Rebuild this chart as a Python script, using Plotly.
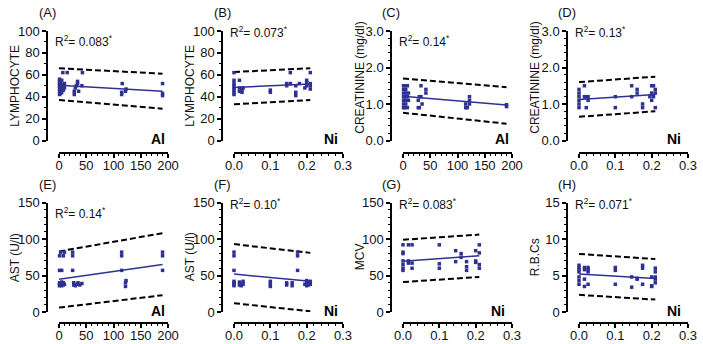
import plotly.graph_objects as go

# ---------------- data ----------------
AL_FIT_X = [0, 190]
NI_FIT_X = [0, 0.21]

A_X = [1,1,1,1,1,1,1, 3,3,3,3, 5,5,5,5, 7, 8,8, 10,10, 15, 28,28,30,32,34,34,36, 42,43, 115,115,116,122,123, 190,190,190]
A_Y = [42,45,48,50,52,54,56, 43,47,50,53, 44,49,51,55, 62, 46,50, 48,52, 62, 42,45,48,50,52,54,45, 50,62, 42,44,52,45,47, 41,43,52]
A_FIT = [50.5, 45]
A_UP = [66, 61]
A_LO = [37, 29]

B_X = [0,0,0,0,0,0,0,0, 0.015,0.015,0.015, 0.022,0.022,0.025, 0.1,0.1, 0.145,0.145, 0.155,0.155, 0.17,0.17,0.17, 0.18, 0.195,0.2,0.2,0.2, 0.21,0.21,0.21,0.21]
B_Y = [42,44,46,48,50,52,55,62, 45,48,55, 44,46,48, 44,46, 50,52, 62,52, 41,44,50, 52, 48,50,53,55, 47,50,52,62]
B_FIT = [48.5, 51.5]
B_UP = [62.5, 66]
B_LO = [33, 37]

C_X = [1,1,1,1,1,1,1, 3,3,3, 5,5,5,5, 8,8,8, 10,10, 28,28,30,30,33,33,35, 42,42, 115,115,118, 122,122,122, 190,190]
C_Y = [0.9,1.0,1.1,1.2,1.3,1.4,1.5, 0.9,1.2,1.5, 1.0,1.1,1.3,1.4, 0.9,1.2,1.5, 1.1,1.3, 0.9,1.1,0.9,1.2,1.2,1.5,1.0, 1.3,1.4, 0.9,1.0,0.9, 1.0,1.1,1.2, 0.93,0.98]
C_FIT = [1.21, 0.97]
C_UP = [1.70, 1.46]
C_LO = [0.76, 0.46]

D_X = [0,0,0,0,0,0, 0.015,0.015, 0.02,0.02,0.025,0.025, 0.1,0.1, 0.145,0.145, 0.16,0.16, 0.175,0.175, 0.195,0.2,0.2,0.2, 0.205,0.205, 0.21,0.21,0.21]
D_Y = [0.9,1.0,1.1,1.2,1.3,1.4, 1.5,1.2, 0.9,1.2,1.1,1.2, 0.9,1.2, 1.5,1.2, 1.3,1.4, 0.9,1.0, 1.2,1.5,1.3,1.1, 1.5,1.2, 0.9,1.3,1.4]
D_FIT = [1.12, 1.26]
D_UP = [1.60, 1.75]
D_LO = [0.65, 0.80]

E_X = [1,1,1,1,1, 3,3,3, 5,5,5,5, 8,8,8, 10,10, 25,25,25,27,27, 30,33,35,38,42, 115,115,115, 122,122,123, 190,190,190]
E_Y = [36,38,40,57,77, 37,39,82, 36,38,41,57, 37,40,77, 38,82, 57,77,82,37,40, 36,38,40,37,39, 57,77,82, 35,40,43, 57,77,82]
E_FIT = [45, 65]
E_UP = [83, 108]
E_LO = [6, 23]

F_X = [0,0,0,0,0,0,0, 0.015,0.015,0.02,0.02,0.025,0.025, 0.1,0.1,0.1, 0.145,0.145, 0.16,0.16, 0.175,0.175,0.175, 0.195,0.2,0.2,0.2,0.205,0.205,0.21,0.21]
F_Y = [36,38,40,42,57,77,82, 37,41,36,39,38,42, 35,38,42, 37,40, 36,40, 57,77,82, 38,36,40,43,37,41,38,42]
F_FIT = [52, 42]
F_UP = [93, 81]
F_LO = [12, 1]

G_X = [0,0,0,0,0,0,0, 0.015,0.015,0.015, 0.025,0.025,0.025, 0.1,0.1,0.1, 0.145,0.145, 0.16,0.16, 0.175,0.175,0.175, 0.2,0.2,0.2, 0.21,0.21,0.21,0.21]
G_Y = [57,60,65,70,80,82,92, 92,67,70, 60,67,92, 60,66,92, 69,84, 75,80, 57,62,69, 68,70,84, 60,65,81,92]
G_FIT = [69.5, 77]
G_UP = [99, 106]
G_LO = [41, 48]

H_X = [0,0,0,0,0,0,0, 0.015,0.015,0.015,0.015, 0.025,0.025,0.025,0.025, 0.1,0.1,0.1, 0.145,0.145, 0.16,0.16, 0.175,0.175,0.175, 0.2,0.2,0.2, 0.21,0.21,0.21,0.21,0.21]
H_Y = [3.8,4.3,4.8,5.5,5.8,6.1,6.4, 3.5,4.5,5.8,6.1, 3.8,5.5,5.8,6.1, 3.8,5.7,6.1, 3.4,4.8, 4.5,4.6, 3.8,6.0,6.4, 3.5,3.6,4.8, 4.0,4.5,5.5,6.0,4.8]
H_FIT = [5.2, 4.6]
H_UP = [7.95, 7.25]
H_LO = [2.35, 1.7]

LETTERS = ["(A)", "(B)", "(C)", "(D)", "(E)", "(F)", "(G)", "(H)"]
Y_TITLES = ["LYMPHOCYTE", "LYMPHOCYTE", "CREATININE (mg/dl)", "CREATININE (mg/dl)",
            "AST (U/l)", "AST (U/l)", "MCV", "R.B.Cs"]
R2_TEXT = ["0.083", "0.073", "0.14", "0.13", "0.14", "0.10", "0.083", "0.071"]
METALS = ["Al", "Ni", "Al", "Ni", "Al", "Ni", "Ni", "Ni"]

PANELS = [
    (A_X, A_Y, A_FIT, A_UP, A_LO),
    (B_X, B_Y, B_FIT, B_UP, B_LO),
    (C_X, C_Y, C_FIT, C_UP, C_LO),
    (D_X, D_Y, D_FIT, D_UP, D_LO),
    (E_X, E_Y, E_FIT, E_UP, E_LO),
    (F_X, F_Y, F_FIT, F_UP, F_LO),
    (G_X, G_Y, G_FIT, G_UP, G_LO),
    (H_X, H_Y, H_FIT, H_UP, H_LO),
]

# y-axis setups: (range, major dtick, minor dtick, format)
Y_AXES = [
    ([0, 100], 20, 10, ""),
    ([0, 100], 20, 10, ""),
    ([0, 3], 1, 0.2, ".1f"),
    ([0, 3], 1, 0.2, ".1f"),
    ([0, 150], 50, 10, ""),
    ([0, 150], 50, 10, ""),
    ([0, 150], 50, 10, ""),
    ([0, 15], 5, 1, ""),
]

# ---------------- layout geometry (pixels) ----------------
W, H = 703, 344
def px(x):
    return x / W
def py(y):
    return 1 - y / H

COL_X0 = [59, 234, 403, 579]
COL_W = 109
ROW_TOP = [31, 202.5]
ROW_BOT = [140.5, 312]
ROW_XAXIS = [153, 323]
YAXIS_OFF = 12

BLUE = "#2E3192"
FONT = "Arial, Liberation Sans, sans-serif"

fig = go.Figure()
layout = {}
annotations = []

for i, (xs, ys, fit, up, lo) in enumerate(PANELS):
    r, c = divmod(i, 4)
    n = "" if i == 0 else str(i + 1)
    xa, ya = "x" + n, "y" + n
    is_al = METALS[i] == "Al"
    fx = AL_FIT_X if is_al else NI_FIT_X

    for band in (up, lo):
        fig.add_trace(go.Scatter(x=fx, y=band, xaxis=xa, yaxis=ya, mode="lines",
                                 line=dict(color="black", width=2, dash="6px,3px"),
                                 showlegend=False, hoverinfo="skip"))
    fig.add_trace(go.Scatter(x=fx, y=fit, xaxis=xa, yaxis=ya, mode="lines",
                             line=dict(color=BLUE, width=1.5),
                             showlegend=False))
    fig.add_trace(go.Scatter(x=xs, y=ys, xaxis=xa, yaxis=ya, mode="markers",
                             marker=dict(color=BLUE, size=3.5, symbol="square"),
                             cliponaxis=False, showlegend=False))

    x0 = COL_X0[c]
    x1 = x0 + COL_W
    yr, ymaj, ymin, yfmt = Y_AXES[i]
    common = dict(showline=True, linecolor="black", linewidth=1.5,
                  ticks="outside", ticklen=4, tickwidth=1.5, tickcolor="black",
                  showgrid=False, zeroline=False, fixedrange=True, automargin=False,
                  tickfont=dict(family=FONT, size=13, color="#111"))
    layout["xaxis" + n] = dict(
        common, domain=[px(x0), px(x1)], anchor="free", position=py(ROW_XAXIS[r]),
        range=[0, 200] if is_al else [0, 0.3],
        dtick=50 if is_al else 0.1, tick0=0,
        tickformat="" if is_al else ".1f",
        ticklabelstandoff=-3,
        minor=dict(dtick=10 if is_al else 0.02, tick0=0, ticks="outside",
                   ticklen=2.5, tickwidth=1, tickcolor="black"))
    layout["yaxis" + n] = dict(
        common, domain=[py(ROW_BOT[r]), py(ROW_TOP[r])], anchor="free",
        position=px(x0 - YAXIS_OFF), range=yr, dtick=ymaj, tick0=0,
        tickformat=yfmt,
        minor=dict(dtick=ymin, tick0=0, ticks="outside", ticklen=2.5,
                   tickwidth=1, tickcolor="black"))

    # panel letter
    annotations.append(dict(text=LETTERS[i], x=px(x0 - 12), y=py(ROW_TOP[r] - 18),
                            xref="paper", yref="paper", showarrow=False,
                            xanchor="center", yanchor="middle",
                            font=dict(family=FONT, size=13, color="#111")))
    # R2 text
    r2_y = ROW_TOP[r] + (10 if i in (0, 2, 4) else 1)
    annotations.append(dict(text="R<sup>2</sup>= " + R2_TEXT[i] + "<sup>*</sup>",
                            x=px(x0 - 6), y=py(r2_y),
                            xref="paper", yref="paper", showarrow=False,
                            xanchor="left", yanchor="middle",
                            font=dict(family=FONT, size=12, color="#111")))
    # metal label
    annotations.append(dict(text="<b>" + METALS[i] + "</b>",
                            x=px(x1 - (1 if is_al else 3 if c == 1 else 5)),
                            y=py(ROW_BOT[r] - 1),
                            xref="paper", yref="paper", showarrow=False,
                            xanchor="right", yanchor="middle",
                            font=dict(family=FONT, size=14, color="black")))
    # y title
    tcx = [15, 190, 360, 535][c]
    tcy = (ROW_TOP[r] + ROW_BOT[r]) / 2
    if i in (2, 3):
        tcy -= 8
    annotations.append(dict(text=Y_TITLES[i], x=px(tcx), y=py(tcy),
                            xref="paper", yref="paper", showarrow=False,
                            textangle=-90, xanchor="center", yanchor="middle",
                            font=dict(family=FONT, size=12, color="#111")))

fig.update_layout(
    width=W, height=H,
    margin=dict(l=0, r=0, t=0, b=0, autoexpand=False),
    paper_bgcolor="white", plot_bgcolor="white",
    annotations=annotations,
    **layout,
)

fig.write_html("out.html", config={"displayModeBar": False},
               post_script="document.body.style.margin='0px';")
